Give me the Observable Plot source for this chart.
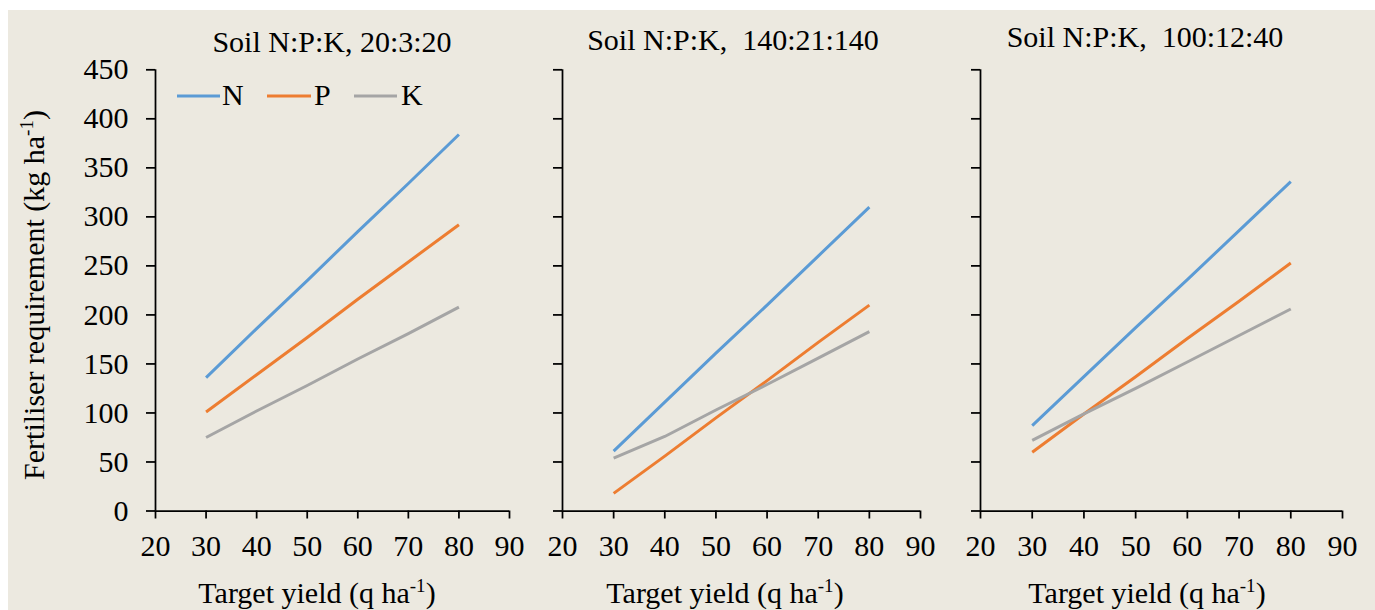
<!DOCTYPE html>
<html>
<head>
<meta charset="utf-8">
<script src="https://cdn.jsdelivr.net/npm/d3@7"></script>
<script src="https://cdn.jsdelivr.net/npm/@observablehq/plot@0.6"></script>
<style>
  html, body { margin: 0; padding: 0; background: #ffffff; }
  #wrap { position: relative; width: 1375px; height: 610px; overflow: hidden; background: #ffffff; }
  #bg { position: absolute; left: 8px; top: 10px; width: 1367px; height: 600px; background: #ECE9E0; }
  #overlay { position: absolute; left: 0; top: 0; pointer-events: none; }
</style>
</head>
<body>
<div id="wrap"><div id="bg"></div></div>
<script>
// ---- data ----
const yields = [30, 40, 50, 60, 70, 80];
const nutrients = ["N", "P", "K"];
const colors = ["#5B9BD5", "#ED7D31", "#A5A5A5"];
const titles = ["Soil N:P:K, 20:3:20", "Soil N:P:K,  140:21:140", "Soil N:P:K,  100:12:40"];
const xTicks = [20, 30, 40, 50, 60, 70, 80, 90];
const yTicks = [0, 50, 100, 150, 200, 250, 300, 350, 400, 450];

const soil1N = [136, 186, 235, 285, 334, 384];
const soil1P = [101, 139, 177, 216, 254, 292];
const soil1K = [75, 102, 128, 155, 181, 208];

const soil2N = [61, 111, 161, 210, 260, 310];
const soil2P = [18, 56, 95, 133, 172, 210];
const soil2K = [54, 76, 103, 129, 156, 183];

const soil3N = [87, 137, 187, 236, 286, 336];
const soil3P = [60, 99, 137, 176, 214, 253];
const soil3K = [72, 99, 125, 152, 179, 206];

const yLabel = "Fertiliser requirement (kg ha";
const xLabel = "Target yield (q ha";

// ---- build ----
const panels = [
  {series: [soil1N, soil1P, soil1K], left: 0, width: 524, ml: 155, mr: 15, showY: true},
  {series: [soil2N, soil2P, soil2K], left: 502, width: 433, ml: 60, mr: 15, showY: false},
  {series: [soil3N, soil3P, soil3K], left: 920, width: 442, ml: 60, mr: 20, showY: false}
];

const wrap = document.getElementById("wrap");
const FONT = "'Liberation Serif', 'Times New Roman', serif";

panels.forEach((p, i) => {
  const rows = [];
  p.series.forEach((vals, k) => vals.forEach((v, j) => rows.push({yield: yields[j], value: v, nutrient: nutrients[k]})));
  const svg = Plot.plot({
    width: p.width,
    height: 610,
    marginLeft: p.ml,
    marginRight: p.mr,
    marginTop: 69.3,
    marginBottom: 99.5,
    x: {domain: [20, 90]},
    y: {domain: [0, 450]},
    color: {domain: nutrients, range: colors},
    style: {background: "transparent", fontFamily: FONT, fontSize: "30px", color: "black", overflow: "visible"},
    marks: [
      Plot.axisY({ticks: yTicks, tickSize: 9, tickPadding: 18, fontSize: 30, strokeWidth: 1.75, label: null,
                  tickFormat: p.showY ? (d => String(d)) : (() => "")}),
      Plot.axisX({ticks: xTicks, tickSize: 8, tickPadding: 16, fontSize: 30, strokeWidth: 1.75, label: null,
                  tickFormat: d => String(d)}),
      Plot.ruleX([20], {stroke: "black", strokeWidth: 1.75}),
      Plot.ruleY([0], {stroke: "black", strokeWidth: 1.75}),
      Plot.line(rows, {x: "yield", y: "value", z: "nutrient", stroke: "nutrient", strokeWidth: 3, strokeLinecap: "butt"})
    ]
  });
  svg.style.position = "absolute";
  svg.style.left = p.left + "px";
  svg.style.top = "0px";
  svg.style.maxWidth = "none";
  wrap.appendChild(svg);
});

// ---- titles, axis labels, legend ----
const ov = d3.select(wrap).append("svg").attr("id", "overlay")
  .attr("width", 1375).attr("height", 610)
  .style("font-family", FONT).style("font-size", "30px").style("fill", "black");

const titlePos = [[332, 52], [733, 50], [1145, 47]];
titles.forEach((t, i) => {
  ov.append("text").attr("x", titlePos[i][0]).attr("y", titlePos[i][1])
    .attr("text-anchor", "middle").style("white-space", "pre").attr("xml:space", "preserve").text(t);
});

const xLabPos = [317, 725, 1147];
xLabPos.forEach(cx => {
  const t = ov.append("text").attr("x", cx).attr("y", 603).attr("text-anchor", "middle");
  t.append("tspan").text(xLabel);
  t.append("tspan").attr("dy", -11).style("font-size", "19px").text("-1");
  t.append("tspan").attr("dy", 11).text(")");
});

const yl = ov.append("text").attr("transform", "translate(44,295) rotate(-90)").attr("text-anchor", "middle");
yl.append("tspan").text(yLabel);
yl.append("tspan").attr("dy", -11).style("font-size", "19px").text("-1");
yl.append("tspan").attr("dy", 11).text(")");

// legend
const legendX = [[177, 220, 222], [267, 311, 314], [354, 397, 401]];
nutrients.forEach((n, k) => {
  const [x1, x2, tx] = legendX[k];
  ov.append("line").attr("x1", x1).attr("x2", x2).attr("y1", 96).attr("y2", 96)
    .attr("stroke", colors[k]).attr("stroke-width", 3);
  ov.append("text").attr("x", tx).attr("y", 105).text(n);
});
</script>
</body>
</html>
